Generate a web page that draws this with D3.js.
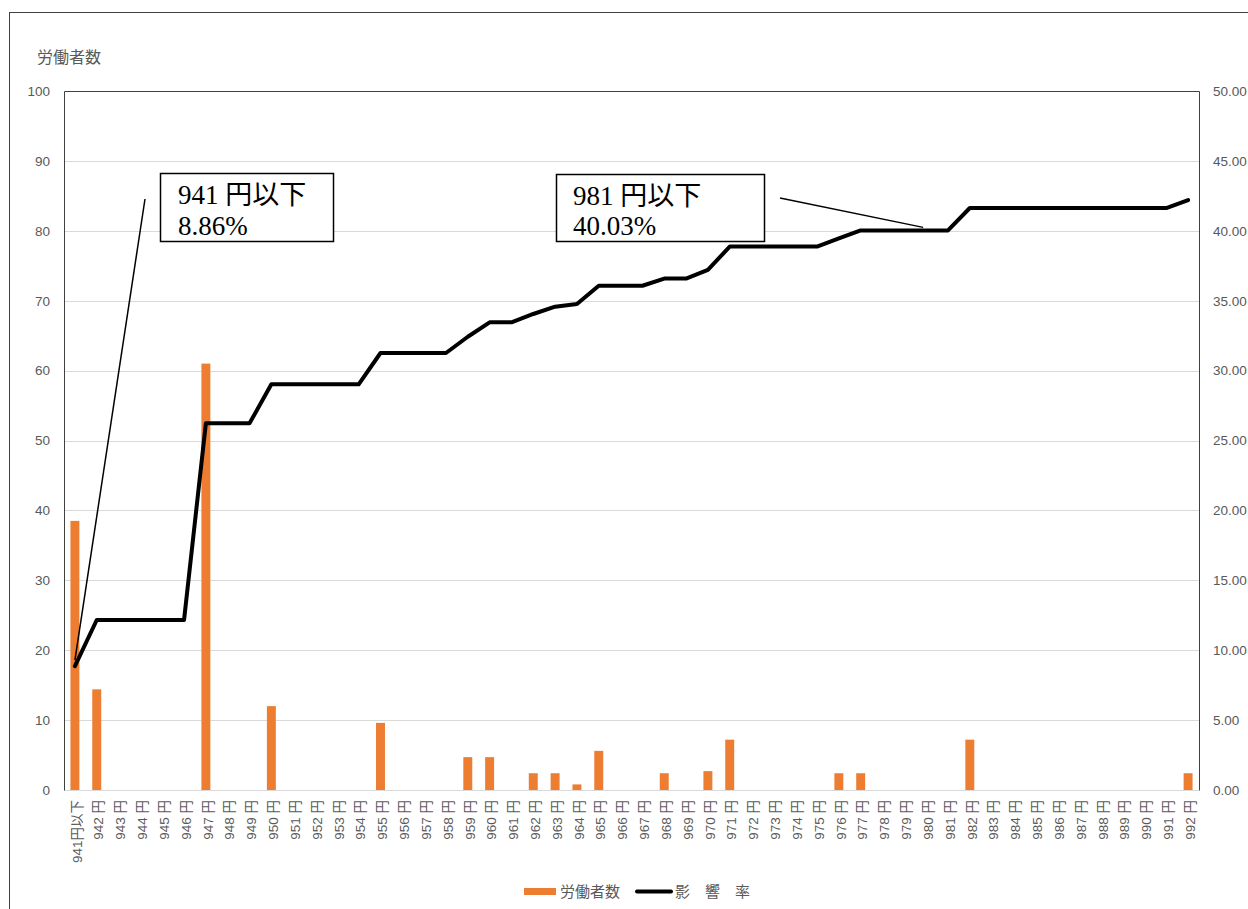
<!DOCTYPE html>
<html>
<head>
<meta charset="utf-8">
<script src="https://cdn.jsdelivr.net/npm/d3@7"></script>
<style>
  html, body { margin: 0; padding: 0; background: #fff; }
  svg { display: block; }
  .sans { font-family: "Liberation Sans", "Noto Sans CJK JP", sans-serif; }
  .serif { font-family: "Liberation Serif", "DejaVu Serif", "Noto Sans CJK JP", serif; }
</style>
</head>
<body>
<svg id="chart" width="1248" height="909"></svg>
<script>
// ---- data ----
const categories = ["941円以下"].concat(d3.range(942, 993).map(v => v + " 円"));

// 労働者数 (left axis)
const workerCounts = [
  38.5, 14.4, 0, 0, 0, 0, 61.0, 0, 0, 12.0,
  0, 0, 0, 0, 9.6, 0, 0, 0, 4.7, 4.7,
  0, 2.4, 2.4, 0.8, 5.6, 0, 0, 2.4, 0, 2.7,
  7.2, 0, 0, 0, 0, 2.4, 2.4, 0, 0, 0,
  0, 7.2, 0, 0, 0, 0, 0, 0, 0, 0,
  0, 2.4
];

// 影響率 (right axis, %)
const impactRate = [
  8.86, 12.16, 12.16, 12.16, 12.16, 12.16, 26.23, 26.23, 26.23, 29.02,
  29.02, 29.02, 29.02, 29.02, 31.26, 31.26, 31.26, 31.26, 32.42, 33.45,
  33.45, 34.05, 34.57, 34.76, 36.07, 36.07, 36.07, 36.58, 36.58, 37.2,
  38.87, 38.87, 38.87, 38.87, 38.87, 39.45, 40.03, 40.03, 40.03, 40.03,
  40.03, 41.63, 41.63, 41.63, 41.63, 41.63, 41.63, 41.63, 41.63, 41.63,
  41.63, 42.2
];

const leftTicks = d3.range(0, 101, 10);
const rightTicks = d3.range(0, 50.01, 5);

const leftTitle = "労働者数";
const legendLabels = ["労働者数", "影　響　率"];
const annotations = [
  { idx: 0, lines: ["941 円以下", "8.86%"] },
  { idx: 39, lines: ["981 円以下", "40.03%"] }
];

// ---- layout ----
const svg = d3.select("#chart");
const plot = { left: 64, right: 1199, top: 91, bottom: 790 };
const orange = "#ED7D31";
const gray = "#595959";

const x = d3.scaleBand()
  .domain(categories)
  .range([plot.left, plot.right])
  .paddingInner(0.59)
  .paddingOuter(0.295);
const yL = d3.scaleLinear().domain([0, 100]).range([plot.bottom, plot.top]);
const yR = d3.scaleLinear().domain([0, 50]).range([plot.bottom, plot.top]);
const cx = c => x(c) + x.bandwidth() / 2;

// outer chart border
svg.append("rect")
  .attr("x", 9.5).attr("y", 12.5)
  .attr("width", 1260).attr("height", 920)
  .attr("fill", "none").attr("stroke", "#404040").attr("stroke-width", 1);

// gridlines
svg.append("g").selectAll("line")
  .data(leftTicks.filter(t => t < 100))
  .join("line")
  .attr("x1", plot.left).attr("x2", plot.right)
  .attr("y1", d => Math.round(yL(d)) + 0.5).attr("y2", d => Math.round(yL(d)) + 0.5)
  .attr("stroke", "#d9d9d9").attr("stroke-width", 1);

// plot border top/left/right
svg.append("path")
  .attr("d", `M${plot.left + 0.5},${plot.bottom + 0.5}V${plot.top + 0.5}H${plot.right + 0.5}V${plot.bottom + 0.5}`)
  .attr("fill", "none").attr("stroke", "#404040").attr("stroke-width", 1);

// left axis
const leftAxis = svg.append("g")
  .attr("transform", `translate(${plot.left},0)`)
  .call(d3.axisLeft(yL).tickValues(leftTicks).tickSize(0).tickPadding(14).tickFormat(d3.format("d")));
leftAxis.select(".domain").remove();
leftAxis.selectAll("text").attr("class", "sans").attr("font-size", 13.5).attr("fill", gray);

// right axis
const rightAxis = svg.append("g")
  .attr("transform", `translate(${plot.right},0)`)
  .call(d3.axisRight(yR).tickValues(rightTicks).tickSize(0).tickPadding(14).tickFormat(d3.format(".2f")));
rightAxis.select(".domain").remove();
rightAxis.selectAll("text").attr("class", "sans").attr("font-size", 13.5).attr("fill", gray);

// bottom axis labels
const bottomAxis = svg.append("g")
  .attr("transform", `translate(0,${plot.bottom})`)
  .call(d3.axisBottom(x).tickSize(0).tickPadding(0));
bottomAxis.select(".domain").remove();
bottomAxis.selectAll("text")
  .attr("class", "sans")
  .attr("font-size", 13.5)
  .attr("fill", gray)
  .attr("text-anchor", "end")
  .attr("dy", "0.35em")
  .attr("transform", "translate(2,10) rotate(-90)")
  .attr("x", 0).attr("y", 0);

// left title
svg.append("text")
  .attr("class", "sans")
  .attr("x", 37).attr("y", 63)
  .attr("font-size", 16).attr("fill", gray)
  .text(leftTitle);

// bars
svg.append("g").selectAll("rect")
  .data(categories.map((c, i) => ({ c, v: workerCounts[i] })).filter(d => d.v > 0))
  .join("rect")
  .attr("x", d => x(d.c))
  .attr("width", x.bandwidth())
  .attr("y", d => yL(d.v))
  .attr("height", d => yL(0) - yL(d.v))
  .attr("fill", orange);

// line
const line = d3.line()
  .x((d, i) => cx(categories[i]))
  .y(d => yR(d));
svg.append("path")
  .datum(impactRate)
  .attr("d", line)
  .attr("fill", "none")
  .attr("stroke", "#000")
  .attr("stroke-width", 4)
  .attr("stroke-linejoin", "round")
  .attr("stroke-linecap", "round");

// annotations
const annoBoxes = [
  { box: [160, 173, 173, 68], text: [178, 204, 235], from: [145, 199], toDy: -6 },
  { box: [556, 174, 208, 67], text: [573, 205, 235], from: [780, 198], toDy: -3, toDx: -3 }
];
annotations.forEach((a, k) => {
  const b = annoBoxes[k];
  const px = cx(categories[a.idx]) + (b.toDx || 0);
  const py = yR(impactRate[a.idx]) + b.toDy;
  svg.append("line")
    .attr("x1", b.from[0]).attr("y1", b.from[1])
    .attr("x2", px).attr("y2", py)
    .attr("stroke", "#000").attr("stroke-width", 1.5);
  svg.append("rect")
    .attr("x", b.box[0] + 0.5).attr("y", b.box[1] + 0.5)
    .attr("width", b.box[2]).attr("height", b.box[3])
    .attr("fill", "#fff").attr("stroke", "#000").attr("stroke-width", 1.5);
  a.lines.forEach((t, j) => {
    svg.append("text")
      .attr("class", "serif")
      .attr("x", b.text[0]).attr("y", b.text[1 + j])
      .attr("font-size", 27).attr("fill", "#000")
      .text(t);
  });
});

// legend
const lg = svg.append("g");
lg.append("rect").attr("x", 524).attr("y", 888).attr("width", 32).attr("height", 7).attr("fill", orange);
lg.append("text").attr("class", "sans").attr("x", 560).attr("y", 897)
  .attr("font-size", 15).attr("fill", gray).text(legendLabels[0]);
lg.append("line").attr("x1", 637).attr("x2", 671).attr("y1", 891.5).attr("y2", 891.5)
  .attr("stroke", "#000").attr("stroke-width", 4).attr("stroke-linecap", "round");
lg.append("text").attr("class", "sans").attr("x", 675).attr("y", 897)
  .attr("font-size", 15).attr("fill", gray).text(legendLabels[1]);
</script>
</body>
</html>
